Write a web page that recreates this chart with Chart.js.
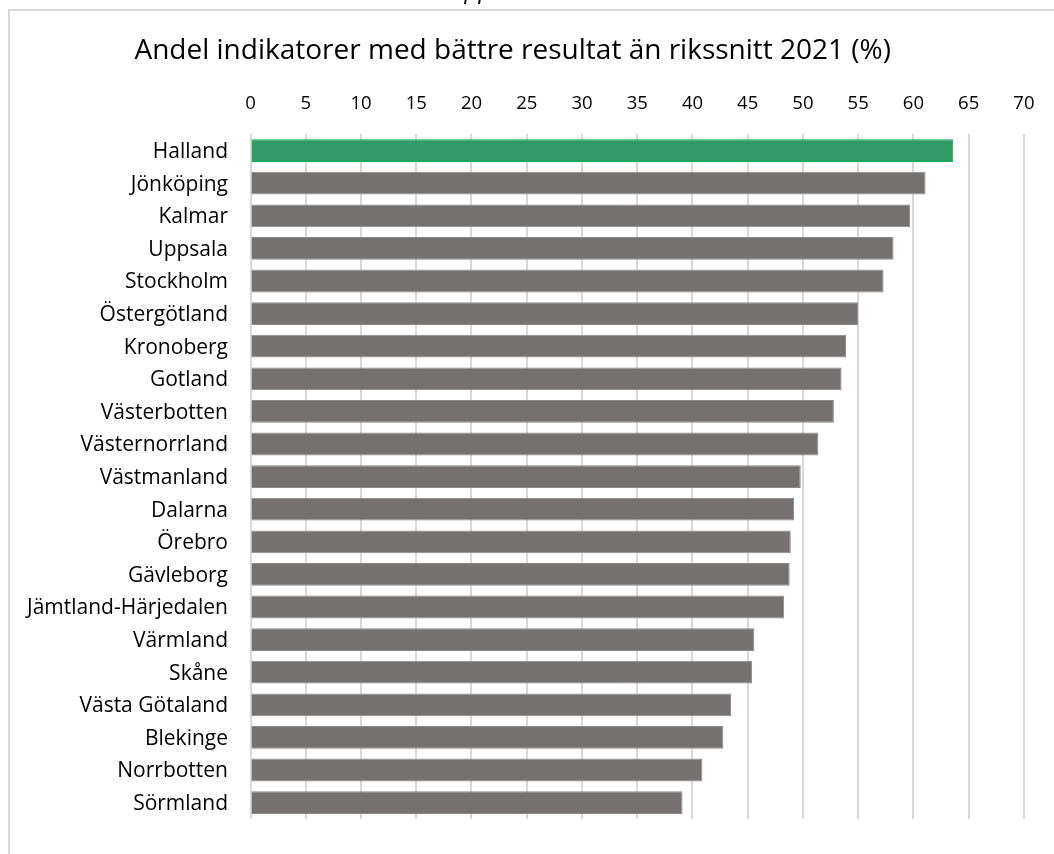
<!DOCTYPE html>
<html>
<head>
<meta charset="utf-8">
<script src="https://cdn.jsdelivr.net/npm/chart.js@4"></script>
<style>
html,body{margin:0;padding:0;background:#fff;}
#wrap{position:relative;width:1054px;height:854px;}
</style>
</head>
<body>
<div id="wrap"><canvas id="c" width="1054" height="854"></canvas></div>
<script>
const titleText = 'Andel indikatorer med bättre resultat än rikssnitt 2021 (%)';
const regions = ['Halland','Jönköping','Kalmar','Uppsala','Stockholm','Östergötland','Kronoberg','Gotland','Västerbotten','Västernorrland','Västmanland','Dalarna','Örebro','Gävleborg','Jämtland-Härjedalen','Värmland','Skåne','Västa Götaland','Blekinge','Norrbotten','Sörmland'];
const shares = [63.6,61.1,59.7,58.2,57.3,55.0,53.9,53.5,52.8,51.4,49.8,49.2,48.9,48.8,48.3,45.6,45.4,43.5,42.8,40.9,39.1];
const highlighted = ['Halland'];
const xTicksMin = 0, xTicksMax = 70, xTicksStep = 5;

const FONT = '"Open Sans", Lato, sans-serif';

const framePlugin = {
  id: 'frame',
  beforeDraw(chart) {
    const ctx = chart.ctx;
    ctx.save();
    ctx.fillStyle = '#ffffff';
    ctx.fillRect(0, 0, chart.width, chart.height);
    ctx.strokeStyle = '#D9D9D9';
    ctx.lineWidth = 2;
    ctx.beginPath();
    ctx.moveTo(9, chart.height);
    ctx.lineTo(9, 10);
    ctx.lineTo(chart.width, 10);
    ctx.stroke();
    ctx.fillStyle = '#000';
    ctx.font = 'italic 22px "DejaVu Serif", serif';
    ctx.textBaseline = 'alphabetic';
    ctx.fillText('pp', 463, -1);
    ctx.restore();
  }
};

new Chart(document.getElementById('c'), {
  type: 'bar',
  data: {
    labels: regions,
    datasets: [{
      data: shares,
      backgroundColor: regions.map(r => highlighted.includes(r) ? '#339966' : '#757171'),
      borderColor: regions.map(r => highlighted.includes(r) ? '#00B050' : '#8C8888'),
      borderWidth: 1,
      categoryPercentage: 1,
      barPercentage: 0.70
    }]
  },
  options: {
    indexAxis: 'y',
    responsive: false,
    animation: false,
    devicePixelRatio: 1,
    layout: { padding: { top: 10, left: 0, right: 28.5, bottom: 20.3 } },
    plugins: {
      legend: { display: false },
      tooltip: { enabled: false },
      title: {
        display: true,
        text: titleText,
        color: '#000',
        font: { family: FONT, size: 28, weight: 'normal', lineHeight: 1.2 },
        padding: { top: 24, bottom: 6.2 }
      }
    },
    scales: {
      x: {
        position: 'top',
        min: xTicksMin,
        max: xTicksMax,
        ticks: { stepSize: xTicksStep, color: '#000', padding: 19.5, font: { family: FONT, size: 18.5 } },
        grid: { color: '#D9D9D9', lineWidth: 2, drawTicks: false },
        border: { display: false },
        afterFit(scale) { scale.height = 60.5; }
      },
      y: {
        ticks: { color: '#000', padding: 22.5, labelOffset: 1.5, font: { family: FONT, size: 21 } },
        grid: { display: false, drawTicks: false },
        border: { display: false },
        afterFit(scale) { scale.width = 250.5; }
      }
    }
  },
  plugins: [framePlugin]
});
</script>
</body>
</html>
